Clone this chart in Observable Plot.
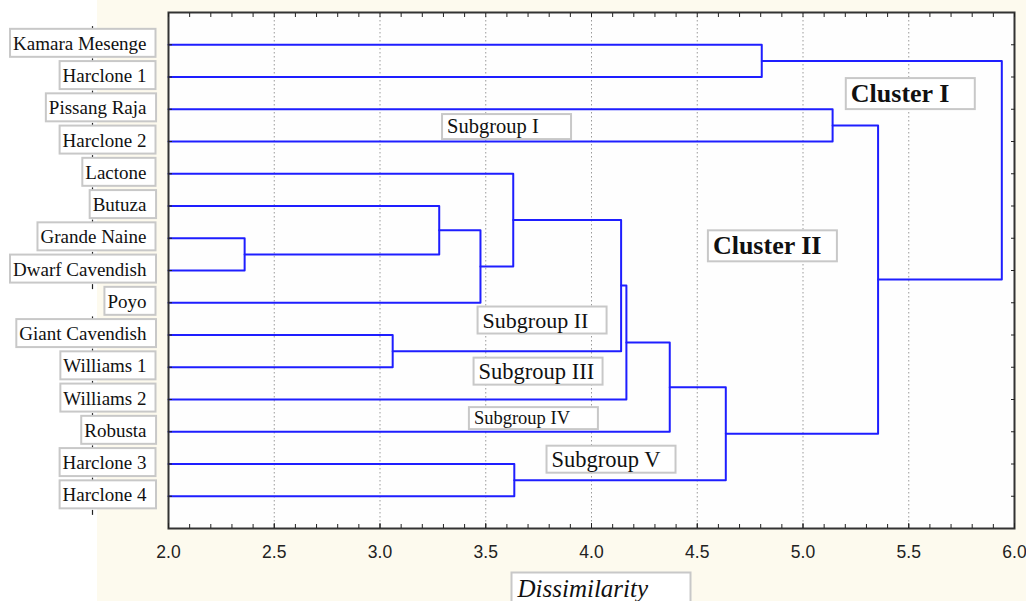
<!DOCTYPE html>
<html>
<head>
<meta charset="utf-8">
<script src="https://cdn.jsdelivr.net/npm/d3@7"></script>
<script src="https://cdn.jsdelivr.net/npm/@observablehq/plot@0.6"></script>
<style>
  html, body { margin: 0; padding: 0; background: #ffffff; }
  #chart { width: 1026px; height: 601px; overflow: hidden;
           background: linear-gradient(to right, #ffffff 0, #ffffff 97px, #fdfaee 97px); }
</style>
</head>
<body>
<div id="chart"></div>
<script>
// ---- Data ----
const leaves = ["Kamara Mesenge", "Harclone 1", "Pissang Raja", "Harclone 2", "Lactone", "Butuza",
  "Grande Naine", "Dwarf Cavendish", "Poyo", "Giant Cavendish", "Williams 1", "Williams 2",
  "Robusta", "Harclone 3", "Harclone 4"];

// merge k joins mergeA[k] and mergeB[k] ("#n" = result of merge n) at mergeHeight[k]
const mergeA = ["Grande Naine", "Giant Cavendish", "Butuza", "#2", "Lactone", "Harclone 3",
  "#4", "#6", "#7", "#8", "Kamara Mesenge", "Pissang Raja", "#11", "#10"];
const mergeB = ["Dwarf Cavendish", "Williams 1", "#0", "Poyo", "#3", "Harclone 4",
  "#1", "Williams 2", "Robusta", "#5", "Harclone 1", "Harclone 2", "#9", "#12"];
const mergeHeight = [2.36, 3.06, 3.28, 3.475, 3.63, 3.635, 4.14, 4.165, 4.37, 4.635, 4.805, 5.14, 5.355, 5.94];

const xMajorTicks = [2.0, 2.5, 3.0, 3.5, 4.0, 4.5, 5.0, 5.5, 6.0];
const xMinorTicks = [2.0, 2.1, 2.2, 2.3, 2.4, 2.5, 2.6, 2.7, 2.8, 2.9, 3.0, 3.1, 3.2, 3.3, 3.4, 3.5,
  3.6, 3.7, 3.8, 3.9, 4.0, 4.1, 4.2, 4.3, 4.4, 4.5, 4.6, 4.7, 4.8, 4.9, 5.0, 5.1, 5.2, 5.3, 5.4,
  5.5, 5.6, 5.7, 5.8, 5.9, 6.0];
const xLabel = "Dissimilarity";

const clusterText = ["Cluster I", "Cluster II"];
const clusterX = [5.226, 4.574];
const clusterY = [1.52, 6.24];
const subgroupText = ["Subgroup I", "Subgroup II", "Subgroup III", "Subgroup IV", "Subgroup V"];
const subgroupX = [3.317, 3.485, 3.466, 3.444, 3.811];
const subgroupY = [2.535, 8.55, 10.13, 11.58, 12.86];

// ---- Build dendrogram segments from the merge table ----
const xDomain = [2, 6];
const nodePos = new Map(leaves.map((n, i) => [n, {x: xDomain[0], y: i}]));
const links = [];
mergeA.forEach((a, k) => {
  const A = nodePos.get(a), B = nodePos.get(mergeB[k]), h = mergeHeight[k];
  [[A.x, A.y], [h, A.y], [h, B.y], [B.x, B.y]].forEach(([x, y]) => links.push({id: k, x, y}));
  nodePos.set("#" + k, {x: h, y: (A.y + B.y) / 2});
});
const leafIdx = leaves.map((d, i) => i);
const bounds = d3.range(-0.5, leaves.length, 1);
const subgroupFont = {"Subgroup I": 20.5, "Subgroup II": 22, "Subgroup III": 22.5, "Subgroup IV": 18.5, "Subgroup V": 22.5};
const vtick = {draw(ctx, size) { const r = Math.sqrt(size / Math.PI); ctx.moveTo(0, -r); ctx.lineTo(0, r); }};
const blue = "#1e1eff";

const plot = Plot.plot({
  width: 1026, height: 601,
  marginLeft: 168, marginRight: 12, marginTop: 12, marginBottom: 73,
  style: {background: "transparent", fontFamily: "Liberation Serif", color: "#222"},
  x: {domain: xDomain, label: null},
  y: {domain: [-1, leaves.length], reverse: true, label: null},
  marks: [
    Plot.frame({fill: "#fefefe", stroke: null}),
    Plot.gridX({ticks: xMajorTicks.slice(1, -1), stroke: "#9a9a9a", strokeOpacity: 1, strokeDasharray: "1.5,2.5"}),
    Plot.line(links, {x: "x", y: "y", z: "id", stroke: blue, strokeWidth: 2, curve: "linear"}),
    Plot.frame({stroke: "#333", strokeWidth: 2}),
    Plot.axisX({anchor: "bottom", ticks: xMinorTicks, tickSize: -4, tickFormat: () => "", label: null}),
    Plot.axisX({anchor: "top", ticks: xMinorTicks, tickSize: -4, tickFormat: () => "", label: null}),
    Plot.axisX({anchor: "bottom", ticks: xMajorTicks, tickSize: -5, tickPadding: 22, tickFormat: d3.format(".1f"),
      fontFamily: "Liberation Sans", fontSize: 17.5, fill: "#222", label: null}),
    Plot.axisY({anchor: "left", ticks: leafIdx, tickSize: -4, tickFormat: () => "", label: null}),
    Plot.axisY({anchor: "right", ticks: leafIdx, tickSize: -4, tickFormat: () => "", label: null}),
    Plot.dot(bounds, {y: d => d, frameAnchor: "left", dx: -76, symbol: vtick, r: 2.5, stroke: "#222", strokeWidth: 1.2}),
    Plot.text(leaves, {y: (d, i) => i, text: d => d, frameAnchor: "left", textAnchor: "end", dx: -22, dy: -1,
      fontSize: 19, fontFamily: "Liberation Serif", fill: "#111"}),
    Plot.text(subgroupText, {x: (d, i) => subgroupX[i], y: (d, i) => subgroupY[i], text: d => d,
      textAnchor: "start", fontSize: d => subgroupFont[d], fontFamily: "Liberation Serif", fill: "#111"}),
    Plot.text(clusterText, {x: (d, i) => clusterX[i], y: (d, i) => clusterY[i], text: d => d,
      textAnchor: "start", fontSize: 26, fontWeight: "bold", fontFamily: "Liberation Serif", fill: "#111"}),
    Plot.text([xLabel], {frameAnchor: "bottom", text: d => d, textAnchor: "start", lineAnchor: "bottom", dx: -74, dy: 68,
      fontSize: 25, fontStyle: "italic", fontFamily: "Liberation Serif", fill: "#111"})
  ]
});
document.getElementById("chart").appendChild(plot);

// ---- Boxes behind text (found by their content) ----
function boxify(names, opt) {
  const set = new Set(names);
  const groups = new Map();
  plot.querySelectorAll("text").forEach(t => {
    if (!set.has(t.textContent)) return;
    const b = t.getBBox();
    const r = document.createElementNS("http://www.w3.org/2000/svg", "rect");
    const w = opt.width != null ? opt.width : b.width + opt.padL + opt.padR;
    r.setAttribute("x", b.x - opt.padL);
    r.setAttribute("y", b.y - opt.padT);
    r.setAttribute("width", w);
    r.setAttribute("height", b.height + opt.padT + opt.padB);
    r.setAttribute("fill", "#ffffff");
    r.setAttribute("stroke", "#c8c8c8");
    r.setAttribute("stroke-width", 2);
    const tr = t.getAttribute("transform");
    if (tr) r.setAttribute("transform", tr);
    const g = t.parentNode;
    if (!groups.has(g)) groups.set(g, g.firstChild);
    g.insertBefore(r, groups.get(g));
  });
}
boxify(leaves, {padL: 3, padR: 9, padT: 4, padB: 3});
boxify([...subgroupText, ...clusterText], {padL: 5, padR: 0, padT: 1, padB: 1, width: 129});
boxify([xLabel], {padL: 5, padR: 0, padT: 2, padB: 4, width: 179});
</script>
</body>
</html>
